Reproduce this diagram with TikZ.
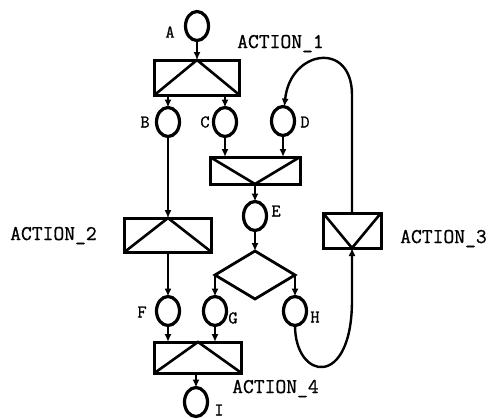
\documentclass[tikz,border=0pt]{standalone}
\usepackage{fontspec}
\newfontfamily\typewriter[FakeBold=0.8]{Latin Modern Mono}
\usetikzlibrary{shapes.geometric,arrows.meta}
\tikzset{
  place/.style={ellipse, draw, line width=3.2pt, minimum width=23pt, minimum height=29pt, inner sep=0pt, outer sep=0pt},
  trans/.style={rectangle, draw, line width=3pt, inner sep=0pt, outer sep=0pt},
  choice/.style={diamond, draw, line width=2.8pt, minimum width=80pt, minimum height=48pt, inner sep=0pt, outer sep=0pt},
  diag/.style={line width=2.6pt},
  flow/.style={line width=2.4pt, -{Latex[length=8pt,width=7pt]}},
  lbl/.style={font=\fontsize{18}{18}\selectfont\typewriter, inner sep=0pt},
  act/.style={font=\fontsize{21}{21}\selectfont\typewriter, inner sep=0pt, anchor=base west},
}
\begin{document}
\begin{tikzpicture}[x=1pt, y=-1pt]
\useasboundingbox (0,0) rectangle (495,418);

% places
\node[place] (A) at (197,26) {};
\node[place] (B) at (168,122) {};
\node[place] (C) at (225,122) {};
\node[place] (D) at (283,121) {};
\node[place] (E) at (255,216) {};
\node[place] (F) at (168,311) {};
\node[place] (G) at (215,311) {};
\node[place] (H) at (295,311) {};
\node[place] (I) at (196,402) {};

% transitions
\node[trans, minimum width=85pt, minimum height=35pt] (t1) at (197,77.5) {};
\node[trans, minimum width=90pt, minimum height=27pt] (tm) at (255,170.5) {};
\node[trans, minimum width=87pt, minimum height=34pt] (t2) at (168,235) {};
\node[trans, minimum width=58pt, minimum height=35pt] (t3) at (352,230.5) {};
\node[trans, minimum width=87pt, minimum height=31pt] (t4) at (198,357.5) {};
\node[choice] (dia) at (255,275) {};

% diagonals inside the transitions
\draw[diag] (t1.south west) -- (t1.north) -- (t1.south east);
\draw[diag] (tm.north west) -- (tm.south) -- (tm.north east);
\draw[diag] (t2.south west) -- (t2.north) -- (t2.south east);
\draw[diag] (t3.north west) -- (t3.south) -- (t3.north east);
\draw[diag] (t4.south west) -- (t4.north) -- (t4.south east);

% place labels
\node[lbl] (lA) at (170,32) {A};
\node[lbl] (lB) at (145,122) {B};
\node[lbl] (lC) at (205,122) {C};
\node[lbl] (lD) at (305,122) {D};
\node[lbl] (lE) at (276,211) {E};
\node[lbl] (lF) at (142,312) {F};
\node[lbl] (lG) at (233,318) {G};
\node[lbl] (lH) at (315,317) {H};
\node[lbl] (lI) at (219,410) {I};

% action names
\node[act] (n1) at (237,48) {ACTION\_1};
\node[act] (n2) at (10,240) {ACTION\_2};
\node[act] (n3) at (400,243) {ACTION\_3};
\node[act] (n4) at (232,393) {ACTION\_4};

% arcs
\draw[flow] (A) -- (t1.north);
\draw[flow] (B |- t1.south) -- (B);
\draw[flow] (C |- t1.south) -- (C);
\draw[flow] (C) -- (C |- tm.north);
\draw[flow] (D) -- (D |- tm.north);
\draw[flow] (tm.south) -- (E);
\draw[flow] (E) -- (dia.north);
\draw[flow] (dia.west) -- (G);
\draw[flow] (dia.east) -- (H);
\draw[flow] (B) -- (t2.north);
\draw[flow] (t2.south) -- (F);
\draw[flow] (F) -- (F |- t4.north);
\draw[flow] (G) -- (G |- t4.north);
\draw[flow] (I |- t4.south) -- (I);

% feedback loop through ACTION_3
\coordinate (upR) at (352,95);
\coordinate (lowR) at (352,300);
\draw[flow] (t3.north) -- (upR) .. controls (352,40) and (290,50) .. (D);
\draw[flow] (H) .. controls (295,380) and (352,390) .. (lowR) -- (t3.south);
\end{tikzpicture}
\end{document}
